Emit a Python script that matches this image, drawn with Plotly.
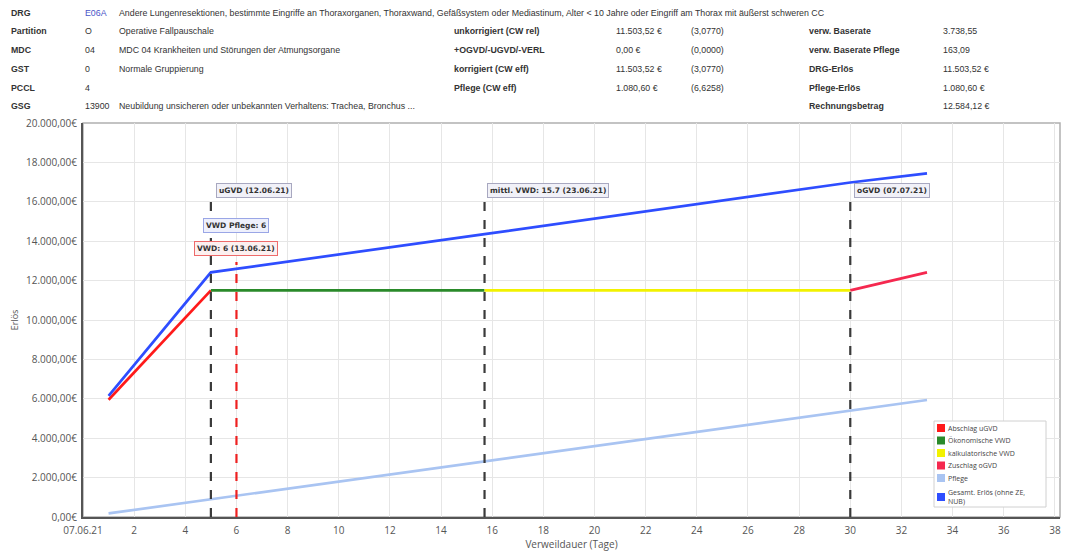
import plotly.graph_objects as go

# ---------------- data ----------------
abschlag_x = [1, 5]
abschlag_y = [5950, 11503.52]
oekon_x = [5, 15.7]
oekon_y = [11503.52, 11503.52]
kalk_x = [15.7, 30]
kalk_y = [11503.52, 11503.52]
zuschlag_x = [30, 33]
zuschlag_y = [11503.52, 12420]
pflege_x = [1, 33]
pflege_y = [180, 5940]
gesamt_x = [1, 5, 15.7, 30, 33]
gesamt_y = [6150, 12420, 14360, 16980, 17440]

marker_x = [5, 15.7, 30]          # uGVD, mittl. VWD, oGVD
marker_labels = ["uGVD (12.06.21)", "mittl. VWD: 15.7 (23.06.21)", "oGVD (07.07.21)"]
marker_top = 16250
vwd_x = 6
vwd_top = 12950
vwd_labels = ["VWD Pflege: 6", "VWD: 6 (13.06.21)"]

x_tickvals = list(range(0, 39, 2))
x_ticktext = ["07.06.21"] + [str(v) for v in range(2, 39, 2)]
y_tickvals = list(range(0, 20001, 2000))
y_ticktext = ["0,00€", "2.000,00€", "4.000,00€", "6.000,00€", "8.000,00€", "10.000,00€",
              "12.000,00€", "14.000,00€", "16.000,00€", "18.000,00€", "20.000,00€"]

series_names = ["Abschlag uGVD", "Ökonomische VWD", "kalkulatorische VWD", "Zuschlag oGVD",
                "Pflege", "Gesamt. Erlös (ohne ZE,<br>NUB)"]
series_x = [abschlag_x, oekon_x, kalk_x, zuschlag_x, pflege_x, gesamt_x]
series_y = [abschlag_y, oekon_y, kalk_y, zuschlag_y, pflege_y, gesamt_y]
series_colors = ["#ff1a1a", "#2a8a2a", "#f2f200", "#f5284f", "#a9c4f2", "#2e4dff"]

header_rows = [
    ("DRG", "E06A", "Andere Lungenresektionen, bestimmte Eingriffe an Thoraxorganen, Thoraxwand, Gefäßsystem oder Mediastinum, Alter < 10 Jahre oder Eingriff am Thorax mit äußerst schweren CC"),
    ("Partition", "O", "Operative Fallpauschale"),
    ("MDC", "04", "MDC 04 Krankheiten und Störungen der Atmungsorgane"),
    ("GST", "0", "Normale Gruppierung"),
    ("PCCL", "4", ""),
    ("GSG", "13900", "Neubildung unsicheren oder unbekannten Verhaltens: Trachea, Bronchus ..."),
]
mid_rows = [
    ("unkorrigiert (CW rel)", "11.503,52 €", "(3,0770)"),
    ("+OGVD/-UGVD/-VERL", "0,00 €", "(0,0000)"),
    ("korrigiert (CW eff)", "11.503,52 €", "(3,0770)"),
    ("Pflege (CW eff)", "1.080,60 €", "(6,6258)"),
]
right_rows = [
    ("verw. Baserate", "3.738,55"),
    ("verw. Baserate Pflege", "163,09"),
    ("DRG-Erlös", "11.503,52 €"),
    ("Pflege-Erlös", "1.080,60 €"),
    ("Rechnungsbetrag", "12.584,12 €"),
]

# ---------------- figure ----------------
# The page body has an 8px margin, so the figure is drawn 8px smaller and all
# reference (screen) pixel positions are shifted by that offset.
OFF = 8
W, H = 1069 - OFF, 556 - OFF
L, R, T, B = 83 - OFF, 1060 - OFF, 123 - OFF, 517 - OFF

def px(x):
    return (x - OFF - L) / (R - L)

def py(y):
    return (B - (y - OFF)) / (B - T)

fig = go.Figure()

for xs, ys, col in zip(series_x, series_y, series_colors):
    fig.add_trace(go.Scatter(x=xs, y=ys, mode="lines", line=dict(color=col, width=2.7),
                             showlegend=False, hoverinfo="skip"))

shapes = []
for mx in marker_x:
    shapes.append(dict(type="line", xref="x", yref="y", x0=mx, x1=mx, y0=0, y1=marker_top,
                       line=dict(color="#3a3a3a", width=2.2, dash="dash")))
shapes.append(dict(type="line", xref="x", yref="y", x0=vwd_x, x1=vwd_x, y0=0, y1=vwd_top,
                   line=dict(color="#ee2020", width=2.2, dash="dash")))
shapes.append(dict(type="rect", xref="paper", yref="paper", x0=0, x1=1, y0=0, y1=1,
                   line=dict(color="#b0b0b0", width=1.5), layer="below"))

annotations = []
box_font = dict(family="DejaVu Sans", size=7.5, color="#333333")
for mx, lab, xs in zip(marker_x, marker_labels, [5, 2, 4]):
    annotations.append(dict(x=mx, y=16550, xref="x", yref="y", text="<b>" + lab + "</b>",
                            showarrow=False, xanchor="left", xshift=xs, font=box_font,
                            bgcolor="#f1f1f8", bordercolor="#a8a8c0", borderwidth=1, borderpad=2))
annotations.append(dict(x=vwd_x, y=14820, xref="x", yref="y", text="<b>" + vwd_labels[0] + "</b>",
                        showarrow=False, xanchor="center", font=box_font,
                        bgcolor="#eef0fc", bordercolor="#9aa6e6", borderwidth=1, borderpad=2))
annotations.append(dict(x=vwd_x, y=13630, xref="x", yref="y", text="<b>" + vwd_labels[1] + "</b>",
                        showarrow=False, xanchor="center", font=box_font,
                        bgcolor="#fcf0f0", bordercolor="#ee6a6a", borderwidth=1, borderpad=2))

# header table
hfont = dict(family="Liberation Sans", size=8.8, color="#333333")
row_y = [13, 31, 50, 69, 88, 106]

def htext(x, y, text, font=hfont):
    annotations.append(dict(x=px(x), y=py(y), xref="paper", yref="paper", text=text,
                            showarrow=False, xanchor="left", yanchor="middle", font=font,
                            borderpad=0))

for i, (lab, code, desc) in enumerate(header_rows):
    htext(10, row_y[i], "<b>" + lab + "</b>")
    htext(84, row_y[i], code, dict(hfont, color="#4a55c8") if i == 0 else hfont)
    if desc:
        htext(118, row_y[i], desc)
for i, (lab, val, cw) in enumerate(mid_rows):
    htext(453, row_y[i + 1], "<b>" + lab + "</b>")
    htext(615, row_y[i + 1], val)
    htext(690, row_y[i + 1], cw)
for i, (lab, val) in enumerate(right_rows):
    htext(808, row_y[i + 1], "<b>" + lab + "</b>")
    htext(942, row_y[i + 1], val)

# manual legend (compact, like the reference)
lg_x0, lg_x1, lg_y0, lg_y1 = 934, 1046, 421, 507
shapes.append(dict(type="rect", xref="paper", yref="paper", x0=px(lg_x0), x1=px(lg_x1),
                   y0=py(lg_y1), y1=py(lg_y0), line=dict(color="#d0d0d0", width=1),
                   fillcolor="white"))
item_y = [428, 440.5, 453, 465.5, 478, 497]
lfont = dict(family="Open Sans", size=7, color="#444444")
for name, col, iy in zip(series_names, series_colors, item_y):
    shapes.append(dict(type="rect", xref="paper", yref="paper", x0=px(937), x1=px(945),
                       y0=py(iy + 4), y1=py(iy - 4), line=dict(width=0), fillcolor=col))
    annotations.append(dict(x=px(947), y=py(iy), xref="paper", yref="paper", text=name,
                            showarrow=False, xanchor="left", yanchor="middle", align="left",
                            font=lfont, borderpad=0))

tickfont = dict(family="Open Sans", size=10, color="#555555")
fig.update_layout(
    width=W, height=H,
    margin=dict(l=L, r=W - R, t=T, b=H - B, autoexpand=False),
    paper_bgcolor="white", plot_bgcolor="white",
    showlegend=False,
    shapes=shapes, annotations=annotations,
    xaxis=dict(range=[0, 38.2], tickvals=x_tickvals, ticktext=x_ticktext, tickfont=tickfont,
               showgrid=True, gridcolor="#e6e6e6", gridwidth=1, zeroline=False,
               showline=True, linecolor="#555555", linewidth=2, ticks="",
               ticklabelstandoff=3,
               title=dict(text="Verweildauer (Tage)", font=dict(family="Open Sans", size=10, color="#555555"),
                          standoff=0)),
    yaxis=dict(range=[0, 20000], tickvals=y_tickvals, ticktext=y_ticktext, tickfont=tickfont,
               showgrid=True, gridcolor="#e6e6e6", gridwidth=1, zeroline=False,
               showline=True, linecolor="#555555", linewidth=2, ticks="",
               ticklabelstandoff=2,
               title=dict(text="Erlös", font=dict(family="Open Sans", size=9, color="#555555"),
                          standoff=8)),
)

fig.write_html("out.html")
